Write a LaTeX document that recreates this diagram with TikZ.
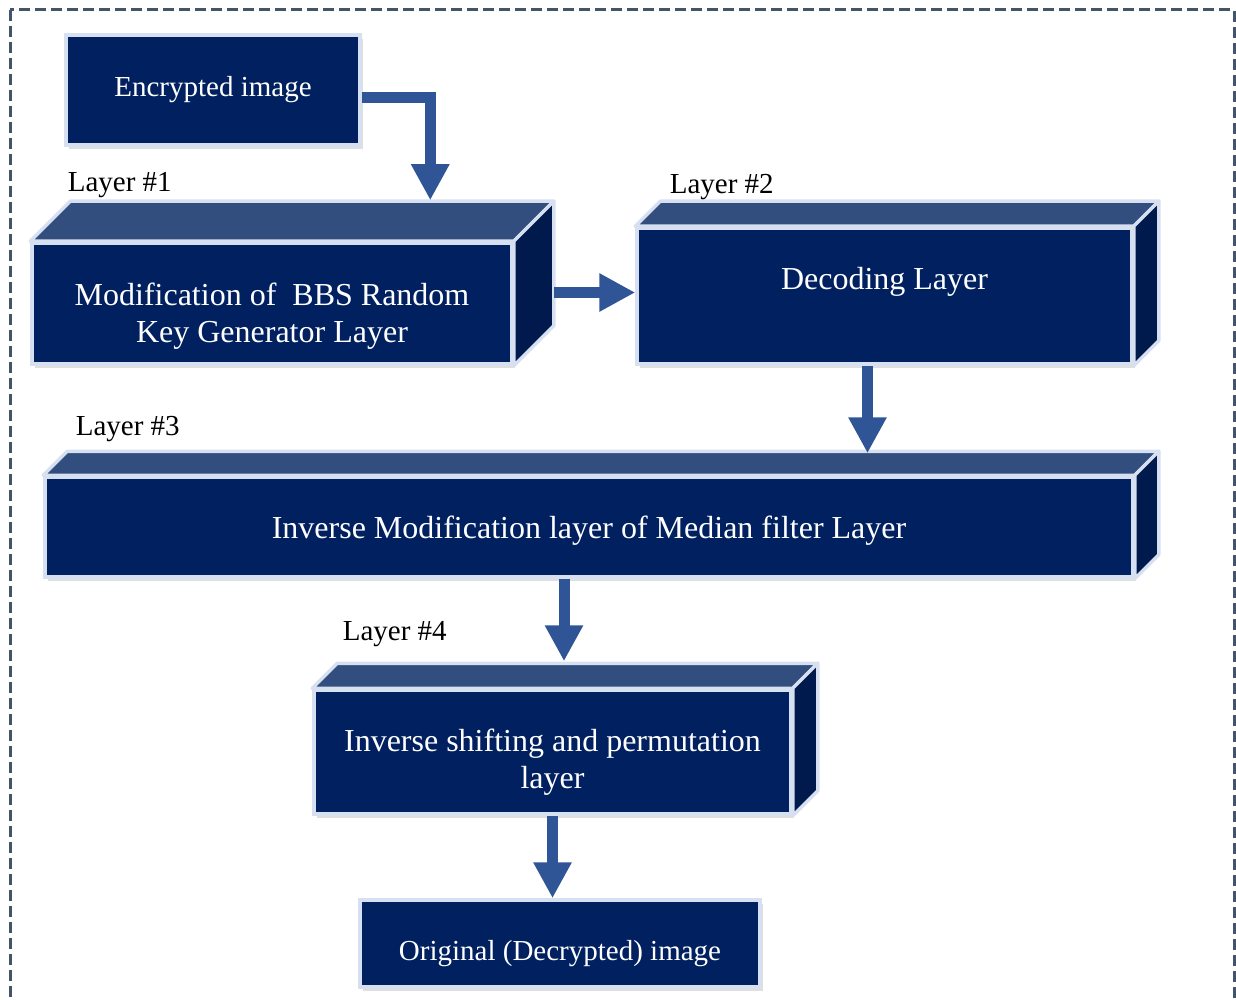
\documentclass[tikz,border=0pt]{standalone}
\usepackage{fontspec}
\setmainfont{Liberation Serif}
\usepackage{tikz}
\usetikzlibrary{arrows.meta,positioning,calc,shadows}
\definecolor{boxnavy}{RGB}{0,32,96}
\definecolor{topnavy}{RGB}{50,78,126}
\definecolor{sidenavy}{RGB}{0,26,77}
\definecolor{edgeblue}{RGB}{214,224,240}
\definecolor{arrowblue}{RGB}{47,85,151}
\definecolor{framegray}{RGB}{68,84,106}
\tikzset{
    front/.style={rectangle, draw=edgeblue, fill=boxnavy, line width=3.5pt,
                  inner sep=0pt,
                  drop shadow={shadow xshift=3pt, shadow yshift=-4pt, opacity=0.25}},
    boxtext/.style={text=white, align=center, inner sep=0pt,
                    font=\fontsize{32}{37}\selectfont},
    flattext/.style={boxtext, font=\fontsize{29}{34}\selectfont},
    topface/.style={fill=topnavy, draw=edgeblue, line width=3.5pt, line join=round},
    sideface/.style={fill=sidenavy, draw=edgeblue, line width=3.5pt, line join=round},
    arr/.style={-{Triangle[width=36pt,length=36pt]}, line width=11pt, draw=arrowblue},
    lbl/.style={font=\fontsize{29}{34}\selectfont, anchor=base west},
    outerframe/.style={draw=framegray, line width=3pt, dash pattern=on 11pt off 5pt},
}

\begin{document}
\begin{tikzpicture}[x=1pt, y=-1pt]
    \useasboundingbox (0,0) rectangle (1236,1000);
    \path[outerframe] (10,10) rectangle (1234,1020);

    % input and output
    \node[front, minimum width=294pt, minimum height=110pt] (enc) at (213,90) {};
    \node[flattext] (enct) at ($(enc.center)+(0,0)$) {Encrypted image};
    \node[front, minimum width=400pt, minimum height=87pt] (orig) at (560,943.5) {};
    \node[flattext] (origt) at ($(orig.center)+(0,10)$) {Original (Decrypted) image};

    % the four layers (front faces)
    \node[front, minimum width=480pt, minimum height=121pt] (l1) at (272,303.5) {};
    \node[boxtext] (l1t) at ($(l1.center)+(0,13)$) {Modification of ~BBS Random\\Key Generator Layer};
    \node[front, minimum width=495pt, minimum height=136pt] (l2) at (884.5,296) {};
    \node[boxtext] (l2t) at ($(l2.center)+(0,-14)$) {Decoding Layer};
    \node[front, minimum width=1088pt, minimum height=100pt] (l3) at (589,527) {};
    \node[boxtext] (l3t) at ($(l3.center)+(0,4)$) {Inverse Modification layer of Median filter Layer};
    \node[front, minimum width=477pt, minimum height=124pt] (l4) at (552.5,752) {};
    \node[boxtext] (l4t) at ($(l4.center)+(0,10)$) {Inverse shifting and permutation\\layer};

    % top and side faces
    \foreach \n/\d in {l1/40, l2/25, l3/24, l4/25} {
        \path[topface] (\n.north west) -- ++(\d,-\d) -- ($(\n.north east)+(\d,-\d)$)
            -- (\n.north east) -- cycle;
        \path[sideface] (\n.north east) -- ++(\d,-\d) -- ($(\n.south east)+(\d,-\d)$)
            -- (\n.south east) -- cycle;
    }

    % layer labels
    \node[lbl] (t1) at ($(l1.north west)+(34,-50)$) {Layer \#1};
    \node[lbl] (t2) at ($(l2.north west)+(31,-33)$) {Layer \#2};
    \node[lbl] (t3) at ($(l3.north west)+(29,-40)$) {Layer \#3};
    \node[lbl] (t4) at ($(l4.north west)+(27,-48)$) {Layer \#4};

    % connectors
    \draw[arr] ([yshift=-8pt]enc.east) -| ($(l1.north west)+(400,-41)$);
    \draw[arr] ($(l1.east)+(40,-11)$) coordinate (s2) -- (s2 -| l2.west);
    \draw[arr] ([xshift=-17pt]l2.south) coordinate (s3) -- ($(s3 |- l3.north)+(0,-22)$);
    \draw[arr] ([xshift=-25pt]l3.south) coordinate (s4) -- ($(s4 |- l4.north)+(0,-27)$);
    \draw[arr] (l4.south) coordinate (s5) -- (s5 |- orig.north);
\end{tikzpicture}
\end{document}
